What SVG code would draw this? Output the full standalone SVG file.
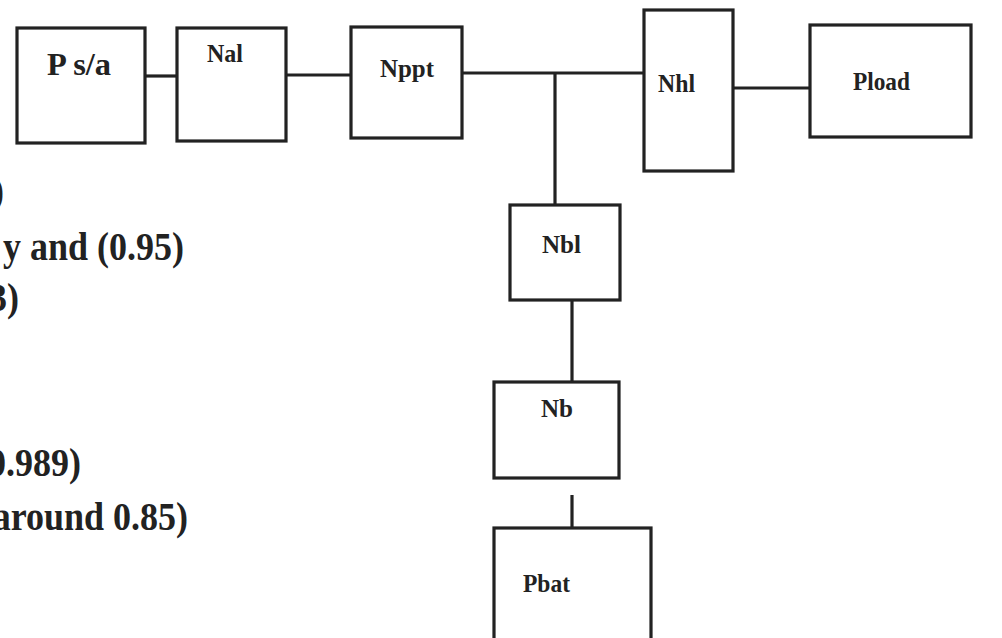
<svg xmlns="http://www.w3.org/2000/svg" width="1002" height="638" viewBox="0 0 1002 638">
<style>
.box{fill:#fff;stroke:#222;stroke-width:3.2}
.wire{stroke:#222;stroke-width:3.2;fill:none}
.lbl{font-family:"Liberation Serif","Times New Roman",serif;font-weight:bold;font-size:26px;fill:#222}
.big{font-size:31px}
.side{font-family:"Liberation Serif","Times New Roman",serif;font-weight:bold;font-size:40px;fill:#222;text-anchor:end}
</style>
<rect width="1002" height="638" fill="#fff"/>
<g id="connectors">
<line class="wire" x1="145" y1="76" x2="177" y2="76"/>
<line class="wire" x1="286" y1="75" x2="351" y2="75"/>
<line class="wire" x1="462" y1="73" x2="644" y2="73"/>
<line class="wire" x1="555" y1="73" x2="555" y2="205"/>
<line class="wire" x1="733" y1="88" x2="810" y2="88"/>
<line class="wire" x1="572" y1="300" x2="572" y2="382"/>
<line class="wire" x1="572" y1="495" x2="572" y2="528"/>
</g>
<g id="node-psa"><rect class="box" x="17" y="28" width="128" height="115"/><text class="lbl big" x="47" y="75" textLength="64" lengthAdjust="spacingAndGlyphs">P s/a</text></g>
<g id="node-nal"><rect class="box" x="177" y="28" width="109" height="113"/><text class="lbl" x="207" y="62" textLength="36" lengthAdjust="spacingAndGlyphs">Nal</text></g>
<g id="node-nppt"><rect class="box" x="351" y="27" width="111" height="111"/><text class="lbl" x="380" y="77" textLength="54" lengthAdjust="spacingAndGlyphs">Nppt</text></g>
<g id="node-nhl"><rect class="box" x="644" y="10" width="89" height="161"/><text class="lbl" x="658" y="92" textLength="37" lengthAdjust="spacingAndGlyphs">Nhl</text></g>
<g id="node-pload"><rect class="box" x="810" y="25" width="161" height="112"/><text class="lbl" x="853" y="90" textLength="57" lengthAdjust="spacingAndGlyphs">Pload</text></g>
<g id="node-nbl"><rect class="box" x="510" y="205" width="110" height="95"/><text class="lbl" x="542" y="253" textLength="39" lengthAdjust="spacingAndGlyphs">Nbl</text></g>
<g id="node-nb"><rect class="box" x="494" y="382" width="125" height="96"/><text class="lbl" x="541" y="417" textLength="32" lengthAdjust="spacingAndGlyphs">Nb</text></g>
<g id="node-pbat"><rect class="box" x="494" y="528" width="157" height="130"/><text class="lbl" x="523" y="592" textLength="47" lengthAdjust="spacingAndGlyphs">Pbat</text></g>
<g id="side-text" transform="scale(0.9,1)">
<text class="side" x="4.4" y="204">)</text>
<text class="side" x="204.5" y="260">y and (0.95)</text>
<text class="side" x="21" y="311">3)</text>
<text class="side" x="90" y="476">0.989)</text>
<text class="side" x="209" y="530">around 0.85)</text>
</g>
</svg>
